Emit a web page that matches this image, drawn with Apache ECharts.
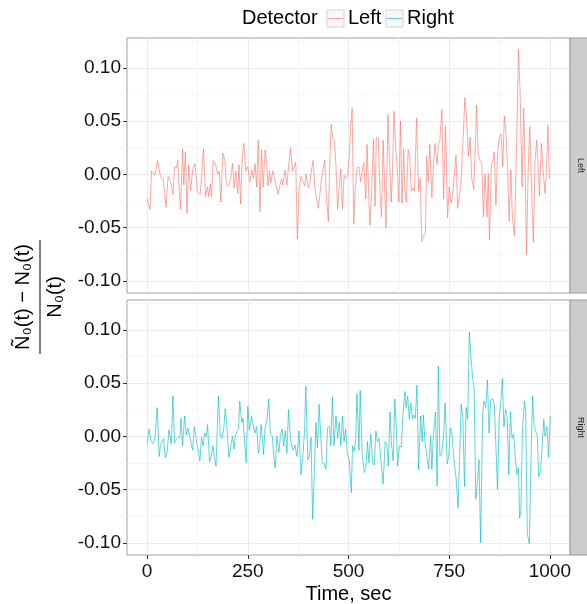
<!DOCTYPE html>
<html><head><meta charset="utf-8">
<script src="https://cdn.jsdelivr.net/npm/echarts@6/dist/echarts.min.js"></script>
<style>html,body{margin:0;padding:0;background:#fff}#c{width:587px;height:604px}</style>
</head><body><div id="c"></div>
<script>
const leftTime = [0,7,11,19,26,33,40,47,52,58,64,68,73,76,81,83,88,91,95,99,103,108,113,119,125,132,140,145,150,153,157,160,164,170,175,179,183,188,193,197,202,207,212,216,220,225,228,232,236,240,245,250,255,260,264,268,272,276,280,284,288,293,297,300,304,307,312,316,320,325,331,334,337,342,347,351,356,361,369,373,377,382,386,391,395,400,404,408,412,417,421,425,430,434,438,441,445,450,453,457,461,465,469,473,477,481,485,489,493,498,502,505,509,513,517,521,526,530,534,538,543,546,550,553,558,562,566,569,574,578,582,586,593,598,602,606,609,613,617,621,625,629,633,637,640,644,648,652,656,660,664,669,674,678,682,686,691,694,698,702,707,711,715,720,723,727,732,736,741,746,750,755,759,763,767,771,775,779,784,789,793,798,802,806,811,814,818,822,826,831,835,839,844,847,850,855,858,862,866,870,874,879,883,887,891,895,899,903,907,912,917,922,926,931,935,939,942,946,950,955,959,963,967,971,974,979,983,988,992,995,999];
const leftValue = [-0.023,-0.033,0.003,-0.001,0.013,-0.002,-0.004,-0.031,-0.002,-0.007,-0.019,0.007,0.006,0.013,-0.023,-0.033,0.024,-0.010,0.021,-0.037,0.009,-0.015,0.004,0.010,-0.017,-0.019,0.024,-0.021,-0.012,-0.021,-0.009,-0.021,0.013,0.009,0.000,0.003,-0.026,0.020,0.013,-0.010,-0.011,-0.005,0.010,-0.013,0.003,-0.018,0.009,-0.028,0.015,0.029,0.003,0.007,-0.007,0.004,-0.004,0.010,-0.012,0.032,-0.035,0.023,-0.012,0.023,0.010,-0.011,0.003,-0.008,0.003,-0.004,-0.010,-0.019,-0.008,-0.004,-0.010,0.004,-0.010,0.007,0.025,0.003,0.011,-0.061,-0.015,-0.002,-0.001,-0.011,0.000,-0.013,-0.008,0.004,0.013,-0.014,-0.015,-0.032,-0.015,-0.001,-0.001,0.013,-0.021,-0.044,0.004,0.047,0.034,0.032,0.007,-0.033,-0.012,0.005,-0.033,-0.001,-0.004,-0.002,0.017,0.042,0.062,-0.047,-0.012,0.006,0.007,-0.007,0.003,0.011,-0.023,0.028,0.028,-0.048,-0.012,0.033,-0.030,0.034,0.034,-0.015,-0.040,0.032,-0.050,0.056,0.010,-0.026,0.001,0.059,0.026,0.007,-0.026,0.050,-0.027,0.024,-0.015,-0.026,0.023,0.017,-0.016,-0.013,-0.016,0.053,-0.016,-0.004,-0.063,-0.058,-0.055,0.017,-0.007,0.028,-0.022,0.010,0.029,0.009,0.028,0.032,0.061,-0.023,0.045,-0.041,-0.012,-0.027,-0.017,-0.018,0.018,-0.032,-0.032,-0.010,0.028,0.072,0.054,0.017,0.035,-0.004,-0.014,0.017,0.065,0.020,0.013,0.010,-0.040,0.000,-0.040,0.001,-0.062,0.010,0.012,0.021,-0.029,0.020,0.034,0.038,0.007,0.055,0.038,0.007,-0.044,0.004,-0.040,-0.058,0.021,0.117,0.079,-0.012,0.062,-0.005,-0.075,0.001,0.045,-0.019,-0.064,0.010,0.032,0.007,-0.020,0.029,0.004,-0.018,0.007,0.046,-0.004];
const rightTime = [0,5,10,15,20,25,30,33,37,41,45,50,54,60,64,68,72,76,81,84,88,93,97,101,105,109,113,117,122,126,131,135,139,143,147,150,155,159,163,167,171,177,182,186,190,194,198,203,207,212,216,219,223,227,230,235,238,242,246,250,254,259,263,268,272,276,279,283,289,293,298,302,306,311,314,318,322,327,331,335,339,343,347,351,355,359,363,367,372,377,382,387,391,394,399,403,407,411,415,419,423,427,431,435,440,444,448,453,456,460,464,469,473,477,481,485,489,493,497,502,507,510,514,518,521,526,529,534,539,543,547,551,555,560,564,568,572,576,581,586,591,595,599,603,607,611,615,619,622,626,631,635,640,643,647,651,655,659,662,666,670,674,679,683,686,690,694,699,704,707,711,716,720,723,727,731,736,740,745,749,753,757,762,767,772,776,780,784,788,792,796,800,804,808,812,816,820,824,828,833,836,841,845,849,853,858,862,866,870,874,879,882,886,890,894,898,902,906,910,914,918,922,925,928,932,937,940,944,949,953,957,961,965,969,972,977,981,985,988,993,997,1001];
const rightValue = [-0.007,0.007,-0.005,-0.007,0.000,0.027,-0.019,-0.009,-0.010,-0.002,-0.020,-0.014,0.006,-0.007,0.038,-0.006,-0.005,-0.001,-0.001,0.017,-0.009,0.019,0.001,0.008,0.007,-0.006,-0.013,0.009,-0.003,-0.003,-0.023,-0.001,-0.009,0.003,0.000,0.011,-0.024,-0.019,-0.009,-0.020,-0.028,0.038,0.000,-0.002,0.006,0.026,0.009,-0.020,-0.011,0.000,-0.012,0.000,0.005,0.007,0.033,0.013,0.017,-0.005,-0.025,0.028,0.006,0.019,0.011,0.003,0.009,-0.016,-0.011,0.011,-0.017,0.009,0.017,0.035,0.002,0.000,-0.017,-0.030,0.000,-0.015,0.000,0.007,-0.009,0.005,-0.016,0.025,0.002,-0.009,-0.013,-0.008,-0.019,0.005,-0.036,-0.017,0.006,0.047,-0.022,-0.019,-0.001,-0.078,-0.036,0.013,-0.011,0.030,0.000,-0.025,-0.026,-0.031,0.008,0.009,-0.009,0.037,-0.009,0.019,-0.002,0.013,-0.009,0.019,-0.005,0.007,-0.016,-0.023,-0.053,-0.009,-0.014,-0.003,0.040,-0.013,0.043,-0.017,-0.034,-0.031,-0.005,-0.025,0.002,-0.025,-0.027,0.005,-0.005,-0.002,-0.025,-0.045,-0.005,-0.007,-0.028,0.023,-0.008,-0.023,0.035,0.006,-0.028,-0.009,-0.010,0.019,0.042,0.027,0.038,0.016,0.031,0.016,0.020,0.017,0.048,-0.031,0.019,-0.005,0.020,-0.006,-0.005,-0.031,0.000,-0.031,0.003,0.023,-0.047,0.066,-0.019,-0.017,0.000,0.031,-0.026,-0.019,0.008,0.002,-0.022,-0.039,-0.067,-0.019,0.030,0.017,-0.047,0.027,0.016,0.098,0.075,0.056,0.045,-0.059,-0.044,-0.022,-0.100,0.019,0.033,0.027,0.053,0.003,0.034,0.035,0.030,-0.009,-0.050,0.016,0.035,0.054,0.009,0.025,0.019,-0.036,0.023,-0.002,0.002,-0.019,-0.036,-0.030,-0.077,-0.069,0.006,0.033,0.024,-0.091,-0.101,-0.025,0.038,0.009,0.008,0.000,-0.038,-0.032,-0.031,0.016,0.000,0.009,-0.020,0.019];

const panels = ['Left', 'Right'];
const seriesColors = ['#F8766D', '#00BFC4'];
const xTicks = [0, 250, 500, 750, 1000];
const xMinorTicks = [125, 375, 625, 875];
const yTicks = [-0.1, -0.05, 0, 0.05, 0.1];
const yMinorTicks = [-0.075, -0.025, 0.025, 0.075, 0.125];
const xRange = [-50, 1050];
const yRange = [-0.1115, 0.128];

const chart = echarts.init(document.getElementById('c'), null, {renderer: 'canvas'});
const FONT = 'Liberation Sans, Arial, Helvetica, sans-serif';
const grids = [
  {left: 127, top: 38, width: 443, height: 255},
  {left: 127, top: 300, width: 443, height: 255}
];

function mkAxis(gi, range, ticks, major, showLabels, isX) {
  return {
    type: 'value', gridIndex: gi, min: range[0], max: range[1],
    position: isX ? 'bottom' : 'left',
    axisLine: {show: false, onZero: false},
    axisTick: {show: major && showLabels, customValues: ticks, length: 4, lineStyle: {color: '#333', width: 1}},
    axisLabel: {show: major && showLabels, customValues: ticks, fontSize: 19, fontFamily: FONT, color: '#111',
      margin: isX ? 7 : 6, formatter: v => isX ? String(v) : v.toFixed(2)},
    splitLine: {show: true, lineStyle: {color: major ? '#ebebeb' : '#f5f5f5', width: 1}}
  };
}

const xAxis = [
  mkAxis(0, xRange, xTicks, true, false, true),
  mkAxis(1, xRange, xTicks, true, true, true),
  mkAxis(0, xRange, xMinorTicks, false, false, true),
  mkAxis(1, xRange, xMinorTicks, false, false, true)
];
const yAxis = [
  mkAxis(0, yRange, yTicks, true, true, false),
  mkAxis(1, yRange, yTicks, true, true, false),
  mkAxis(0, yRange, yMinorTicks, false, false, false),
  mkAxis(1, yRange, yMinorTicks, false, false, false)
];

const seriesData = [
  leftTime.map((t, i) => [t, leftValue[i]]),
  rightTime.map((t, i) => [t, rightValue[i]])
];

const series = panels.map((name, i) => ({
  type: 'line', name: name, xAxisIndex: i, yAxisIndex: i,
  data: seriesData[i], showSymbol: false, symbol: 'none', z: 5,
  lineStyle: {color: seriesColors[i], width: 0.8, opacity: 0.8},
  animation: false
}));

const graphic = [];
// strips
panels.forEach((name, i) => {
  const g = grids[i];
  graphic.push({type: 'rect', shape: {x: 570, y: g.top, width: 22, height: g.height},
    style: {fill: '#cccccc', stroke: '#9a9a9a', lineWidth: 1}, z: 10});
  graphic.push({type: 'text', x: 580, y: g.top + g.height / 2, rotation: -Math.PI / 2,
    style: {text: name, fontSize: 9, fontFamily: FONT, fill: '#1a1a1a', align: 'center', verticalAlign: 'middle'}, z: 11});
});
// legend
graphic.push({type: 'text', x: 242, y: 18, style: {text: 'Detector', fontSize: 20, fontFamily: FONT, fill: '#000', align: 'left', verticalAlign: 'middle'}});
const keyX = [327, 386];
const labX = [348, 407];
panels.forEach((name, i) => {
  graphic.push({type: 'rect', shape: {x: keyX[i], y: 10, width: 17, height: 17}, style: {fill: '#f8f8f8', stroke: '#d3d3d3', lineWidth: 1}});
  graphic.push({type: 'line', shape: {x1: keyX[i] + 1, y1: 18.5, x2: keyX[i] + 16, y2: 18.5}, style: {stroke: seriesColors[i], lineWidth: 0.8, opacity: 0.8}});
  graphic.push({type: 'text', x: labX[i], y: 18, style: {text: name, fontSize: 20, fontFamily: FONT, fill: '#000', align: 'left', verticalAlign: 'middle'}});
});
// x axis title
graphic.push({type: 'text', x: 348.5, y: 594, style: {text: 'Time, sec', fontSize: 20, fontFamily: FONT, fill: '#000', align: 'center', verticalAlign: 'middle'}});
// y axis title (fraction)
graphic.push({type: 'group', x: 40, y: 297, rotation: Math.PI / 2, children: [
  {type: 'text', x: 0, y: -17, style: {text: 'Ñ\u2080(t) \u2212 N\u2080(t)', fontSize: 20, fontFamily: FONT, fill: '#000', align: 'center', verticalAlign: 'middle'}},
  {type: 'line', shape: {x1: -57, y1: 0, x2: 57, y2: 0}, style: {stroke: '#000', lineWidth: 1}},
  {type: 'text', x: 0, y: 15, style: {text: 'N\u2080(t)', fontSize: 20, fontFamily: FONT, fill: '#000', align: 'center', verticalAlign: 'middle'}}
]});

chart.setOption({
  animation: false,
  backgroundColor: '#ffffff',
  grid: grids.map(g => Object.assign({show: true, borderColor: '#a0a0a0', borderWidth: 1, backgroundColor: '#fff'}, g)),
  xAxis: xAxis,
  yAxis: yAxis,
  series: series,
  graphic: graphic
});
</script></body></html>
